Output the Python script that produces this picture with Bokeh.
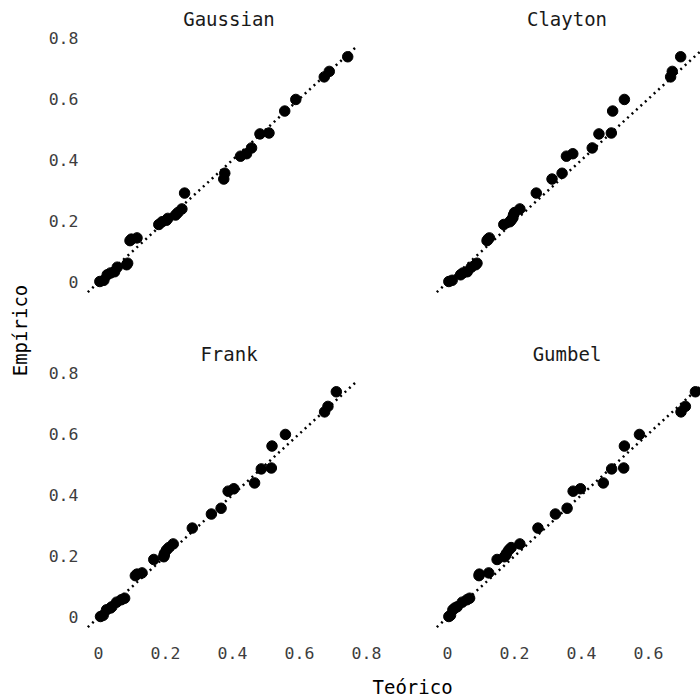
from bokeh.plotting import figure
from bokeh.layouts import row, column
from bokeh.models import Range1d, FixedTicker
from bokeh.embed import file_html
from bokeh.resources import INLINE

# ---------------- data ----------------
empirico = [0.000, 0.004, 0.022, 0.028, 0.032, 0.047, 0.055, 0.060, 0.134, 0.139,
            0.143, 0.187, 0.196, 0.201, 0.207, 0.218, 0.226, 0.238, 0.290, 0.336,
            0.355, 0.411, 0.419, 0.438, 0.484, 0.487, 0.559, 0.597, 0.671, 0.689,
            0.737]

teorico_gaussian = [0.004, 0.016, 0.026, 0.036, 0.048, 0.056, 0.084, 0.087, 0.094, 0.098,
                    0.115, 0.180, 0.190, 0.203, 0.207, 0.230, 0.237, 0.249, 0.257, 0.374,
                    0.377, 0.424, 0.442, 0.457, 0.482, 0.509, 0.556, 0.589, 0.674, 0.689,
                    0.744]

teorico_clayton = [0.004, 0.014, 0.039, 0.046, 0.059, 0.071, 0.084, 0.088, 0.118, 0.121,
                   0.125, 0.168, 0.186, 0.190, 0.194, 0.197, 0.200, 0.216, 0.265, 0.312,
                   0.342, 0.355, 0.374, 0.432, 0.452, 0.489, 0.493, 0.528, 0.666, 0.671,
                   0.696]

teorico_frank = [0.006, 0.014, 0.024, 0.036, 0.040, 0.054, 0.068, 0.078, 0.110, 0.115,
                 0.130, 0.165, 0.195, 0.196, 0.197, 0.203, 0.210, 0.223, 0.280, 0.337,
                 0.366, 0.387, 0.404, 0.466, 0.486, 0.516, 0.518, 0.558, 0.675, 0.685,
                 0.710]

teorico_gumbel = [0.004, 0.009, 0.016, 0.022, 0.029, 0.044, 0.058, 0.066, 0.094, 0.095,
                  0.123, 0.148, 0.170, 0.174, 0.176, 0.183, 0.190, 0.216, 0.270, 0.322,
                  0.357, 0.375, 0.397, 0.465, 0.490, 0.526, 0.528, 0.573, 0.697, 0.710,
                  0.740]

copulas = ["Gaussian", "Clayton", "Frank", "Gumbel"]
ref_x = [-0.032, 0.768]
ref_y = [-0.035, 0.768]
tick_values = [0, 0.2, 0.4, 0.6, 0.8]
tick_labels = ["0", "0.2", "0.4", "0.6", "0.8"]

FONT = "DejaVu Sans Mono"
TICK_COLOR = "#3d3d3d"
TEXT_COLOR = "#1a1a1a"


def panel(name, xs, ys, width, height, xr, yr, bl, br, bt, bb, show_x, show_y):
    p = figure(width=width, height=height, x_range=Range1d(*xr), y_range=Range1d(*yr),
               output_backend="svg", toolbar_location=None,
               min_border_left=bl, min_border_right=br,
               min_border_top=bt, min_border_bottom=bb)
    p.title.text = name
    p.title.align = "center"
    p.title.text_font = FONT
    p.title.text_font_size = "19px"
    p.title.text_font_style = "normal"
    p.title.text_color = TEXT_COLOR
    p.title.standoff = 10
    p.outline_line_color = None
    p.xgrid.visible = False
    p.ygrid.visible = False
    overrides = {v: l for v, l in zip(tick_values, tick_labels)}
    for ax in (p.xaxis[0], p.yaxis[0]):
        ax.ticker = FixedTicker(ticks=tick_values)
        ax.major_label_overrides = overrides
        ax.axis_line_color = None
        ax.major_tick_line_color = None
        ax.minor_tick_line_color = None
        ax.major_label_text_font = FONT
        ax.major_label_text_font_size = "16.5px"
        ax.major_label_text_color = TICK_COLOR
    p.xaxis.major_label_standoff = 6
    p.yaxis.major_label_standoff = 0
    p.xaxis.visible = show_x
    p.yaxis.visible = show_y
    p.line(ref_x, ref_y, line_color="black", line_width=2.5, line_dash="2 4")
    p.scatter(xs, ys, size=10.5, fill_color="black", line_color="black")
    return p


y_rng = (-0.059, 0.81)
xl_rng = (-0.0418, 0.821)
xr_rng = (-0.0418, 0.7552)

p_gau = panel(copulas[0], teorico_gaussian, empirico, 376, 330, xl_rng, y_rng, 50, 37, 34, 31, False, True)
p_cla = panel(copulas[1], teorico_clayton, empirico, 290, 330, xr_rng, y_rng, 23, 0, 34, 31, False, False)
p_fra = panel(copulas[2], teorico_frank, empirico, 376, 340, xl_rng, y_rng, 50, 37, 39, 36, True, True)
p_gum = panel(copulas[3], teorico_gumbel, empirico, 290, 340, xr_rng, y_rng, 23, 0, 39, 36, True, False)


def label_fig(text, width, height, location, border, offset=0):
    p = figure(width=width, height=height, x_range=Range1d(0, 1), y_range=Range1d(0, 1),
               output_backend="svg", toolbar_location=None, title_location=location,
               min_border=0)
    p.title.text = text
    p.title.text_font = FONT
    p.title.text_font_size = "19px"
    p.title.text_font_style = "normal"
    p.title.text_color = "black"
    p.title.standoff = 0
    if location == "left":
        p.title.align = "center"
        p.min_border_left = border
        p.min_border_bottom = 10
    else:
        p.title.align = "left"
        p.title.offset = offset
        p.min_border_top = border
    p.axis.visible = False
    p.grid.visible = False
    p.outline_line_color = None
    return p


ylab = label_fig("Empírico", 34, 670, "left", 30)
xlab = label_fig("Teórico", 700, 30, "above", 27, offset=372)

layout = column(row(ylab, column(row(p_gau, p_cla), row(p_fra, p_gum))), xlab)

with open("out.html", "w") as f:
    f.write(file_html(layout, INLINE))
